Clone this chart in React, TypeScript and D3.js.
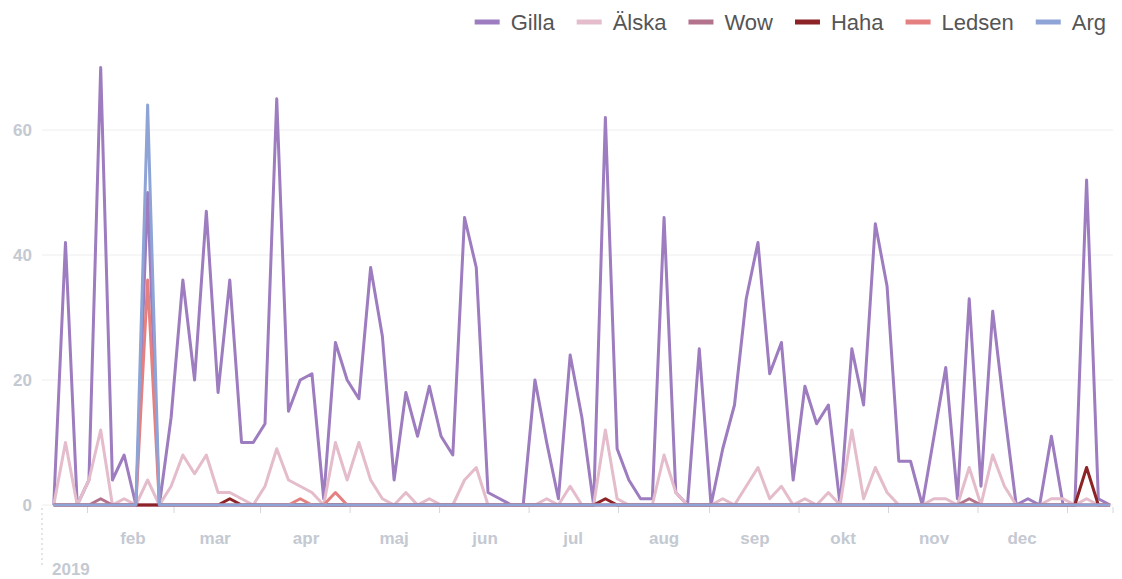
import React, { useEffect, useRef } from "react";
import * as d3 from "d3";

const width = 1122;
const height = 579;
const margin = { top: 67.5, right: 9, bottom: 74, left: 42 };

const seriesNames = ["Gilla", "Älska", "Wow", "Haha", "Ledsen", "Arg"];
const seriesColors = ["#9d7cbf", "#e4bccb", "#b4738c", "#8c2326", "#e58080", "#8ea3d6"];

// one point every 4 days, starting 5 jan 2019
const firstDay = new Date(2019, 0, 5);
const stepDays = 4;
const yearStart = new Date(2019, 0, 1);
const yearEnd = new Date(2020, 0, 1);

const monthLabels = ["feb", "mar", "apr", "maj", "jun", "jul", "aug", "sep", "okt", "nov", "dec"];
const yTicks = [0, 20, 40, 60];
const yearLabel = "2019";

const gilla = [
  0, 42, 0, 4, 70, 4, 8, 0, 50, 0,
  14, 36, 20, 47, 18, 36, 10, 10, 13, 65,
  15, 20, 21, 1, 26, 20, 17, 38, 27, 4,
  18, 11, 19, 11, 8, 46, 38, 2, 1, 0,
  0, 20, 10, 1, 24, 14, 0, 62, 9, 4,
  1, 1, 46, 2, 0, 25, 0, 9, 16, 33,
  42, 21, 26, 4, 19, 13, 16, 0, 25, 16,
  45, 35, 7, 7, 0, 11, 22, 1, 33, 3,
  31, 15, 0, 1, 0, 11, 0, 0, 52, 1, 0,
];
const alska = [
  0, 10, 0, 4, 12, 0, 1, 0, 4, 0,
  3, 8, 5, 8, 2, 2, 1, 0, 3, 9,
  4, 3, 2, 0, 10, 4, 10, 4, 1, 0,
  2, 0, 1, 0, 0, 4, 6, 0, 0, 0,
  0, 0, 1, 0, 3, 0, 0, 12, 1, 0,
  0, 0, 8, 2, 0, 0, 0, 1, 0, 3,
  6, 1, 3, 0, 1, 0, 2, 0, 12, 1,
  6, 2, 0, 0, 0, 1, 1, 0, 6, 0,
  8, 3, 0, 0, 0, 1, 1, 0, 1, 0, 0,
];
const wow = [
  0, 0, 0, 0, 1, 0, 0, 0, 0, 0,
  0, 0, 0, 0, 0, 0, 0, 0, 0, 0,
  0, 0, 0, 0, 0, 0, 0, 0, 0, 0,
  0, 0, 0, 0, 0, 0, 0, 0, 0, 0,
  0, 0, 0, 0, 0, 0, 0, 0, 0, 0,
  0, 0, 0, 0, 0, 0, 0, 0, 0, 0,
  0, 0, 0, 0, 0, 0, 0, 0, 0, 0,
  0, 0, 0, 0, 0, 0, 0, 0, 1, 0,
  0, 0, 0, 0, 0, 0, 0, 0, 0, 0, 0,
];
const haha = [
  0, 0, 0, 0, 0, 0, 0, 0, 0, 0,
  0, 0, 0, 0, 0, 1, 0, 0, 0, 0,
  0, 0, 0, 0, 0, 0, 0, 0, 0, 0,
  0, 0, 0, 0, 0, 0, 0, 0, 0, 0,
  0, 0, 0, 0, 0, 0, 0, 1, 0, 0,
  0, 0, 0, 0, 0, 0, 0, 0, 0, 0,
  0, 0, 0, 0, 0, 0, 0, 0, 0, 0,
  0, 0, 0, 0, 0, 0, 0, 0, 0, 0,
  0, 0, 0, 0, 0, 0, 0, 0, 6, 0, 0,
];
const ledsen = [
  0, 0, 0, 0, 0, 0, 0, 0, 36, 0,
  0, 0, 0, 0, 0, 0, 0, 0, 0, 0,
  0, 1, 0, 0, 2, 0, 0, 0, 0, 0,
  0, 0, 0, 0, 0, 0, 0, 0, 0, 0,
  0, 0, 0, 0, 0, 0, 0, 0, 0, 0,
  0, 0, 0, 0, 0, 0, 0, 0, 0, 0,
  0, 0, 0, 0, 0, 0, 0, 0, 0, 0,
  0, 0, 0, 0, 0, 0, 0, 0, 0, 0,
  0, 0, 0, 0, 0, 0, 0, 0, 0, 0, 0,
];
const arg = [
  0, 0, 0, 0, 0, 0, 0, 0, 64, 0,
  0, 0, 0, 0, 0, 0, 0, 0, 0, 0,
  0, 0, 0, 0, 0, 0, 0, 0, 0, 0,
  0, 0, 0, 0, 0, 0, 0, 0, 0, 0,
  0, 0, 0, 0, 0, 0, 0, 0, 0, 0,
  0, 0, 0, 0, 0, 0, 0, 0, 0, 0,
  0, 0, 0, 0, 0, 0, 0, 0, 0, 0,
  0, 0, 0, 0, 0, 0, 0, 0, 0, 0,
  0, 0, 0, 0, 0, 0, 0, 0, 0, 0, 0,
];

const seriesValues = [gilla, alska, wow, haha, ledsen, arg];

const axisColor = "#c4c9d2";
const font = "'Liberation Sans', Arial, sans-serif";

export default function App() {
  const ref = useRef<SVGSVGElement>(null);

  useEffect(() => {
    document.body.style.margin = "0";
    const svg = d3.select(ref.current);
    svg.selectAll("*").remove();

    const dates = gilla.map((_, i) => d3.timeDay.offset(firstDay, i * stepDays));
    const x = d3.scaleTime().domain([yearStart, yearEnd]).range([margin.left, width - margin.right]);
    const y = d3.scaleLinear().domain([0, 70]).range([height - margin.bottom, margin.top]);

    // grid + y labels
    const grid = svg.append("g");
    grid
      .selectAll("line")
      .data(yTicks)
      .join("line")
      .attr("x1", margin.left)
      .attr("x2", width - margin.right)
      .attr("y1", (d) => y(d))
      .attr("y2", (d) => y(d))
      .attr("stroke", "#eeeeee")
      .attr("stroke-width", 1);
    grid
      .selectAll("text")
      .data(yTicks)
      .join("text")
      .attr("x", 32)
      .attr("y", (d) => y(d) + 6)
      .attr("text-anchor", "end")
      .attr("font-family", font)
      .attr("font-weight", "bold")
      .attr("font-size", 17)
      .attr("fill", axisColor)
      .text((d) => d);

    // x axis ticks (between month starts) and labels
    const monthStarts = d3.timeMonth.range(yearStart, yearEnd);
    const tickDates = monthStarts.map((m) => {
      const next = d3.timeMonth.offset(m, 1);
      return new Date((m.getTime() + next.getTime()) / 2);
    });
    tickDates.push(yearEnd);
    const xAxis = svg.append("g");
    xAxis
      .selectAll("line")
      .data(tickDates)
      .join("line")
      .attr("x1", (d) => x(d))
      .attr("x2", (d) => x(d))
      .attr("y1", y(0) + 2)
      .attr("y2", y(0) + 8)
      .attr("stroke", "#d3d6dc")
      .attr("stroke-width", 1);
    xAxis
      .selectAll("text")
      .data(monthStarts.slice(1))
      .join("text")
      .attr("x", (d) => x(d))
      .attr("y", 544)
      .attr("text-anchor", "middle")
      .attr("font-family", font)
      .attr("font-weight", "bold")
      .attr("font-size", 17)
      .attr("fill", axisColor)
      .text((_, i) => monthLabels[i]);
    xAxis
      .append("line")
      .attr("x1", x(yearStart))
      .attr("x2", x(yearStart))
      .attr("y1", y(0) + 3)
      .attr("y2", 565)
      .attr("stroke", "#c4c9d2")
      .attr("stroke-dasharray", "2,3");
    xAxis
      .append("text")
      .attr("x", x(yearStart) + 10)
      .attr("y", 575)
      .attr("font-family", font)
      .attr("font-weight", "bold")
      .attr("font-size", 17)
      .attr("fill", axisColor)
      .text(yearLabel);

    // series
    const line = d3
      .line<number>()
      .x((_, i) => x(dates[i]))
      .y((d) => y(d));
    svg
      .append("g")
      .selectAll("path")
      .data(seriesValues)
      .join("path")
      .attr("d", (d) => line(d))
      .attr("fill", "none")
      .attr("stroke", (_, i) => seriesColors[i])
      .attr("stroke-width", 3)
      .attr("stroke-linejoin", "round");

    // legend, right aligned
    const legend = svg.append("g");
    let cursor = 1106;
    for (let i = seriesNames.length - 1; i >= 0; i--) {
      const t = legend
        .append("text")
        .attr("y", 30)
        .attr("font-family", font)
        .attr("font-size", 22)
        .attr("fill", "#555")
        .text(seriesNames[i]);
      const w = (t.node() as SVGTextElement).getComputedTextLength();
      t.attr("x", cursor - w);
      legend
        .append("line")
        .attr("x1", cursor - w - 36)
        .attr("x2", cursor - w - 11)
        .attr("y1", 22)
        .attr("y2", 22)
        .attr("stroke", seriesColors[i])
        .attr("stroke-width", 5);
      cursor = cursor - w - 36 - 22;
    }
  }, []);

  return <svg ref={ref} width={width} height={height} style={{ display: "block", background: "#fff" }} />;
}
